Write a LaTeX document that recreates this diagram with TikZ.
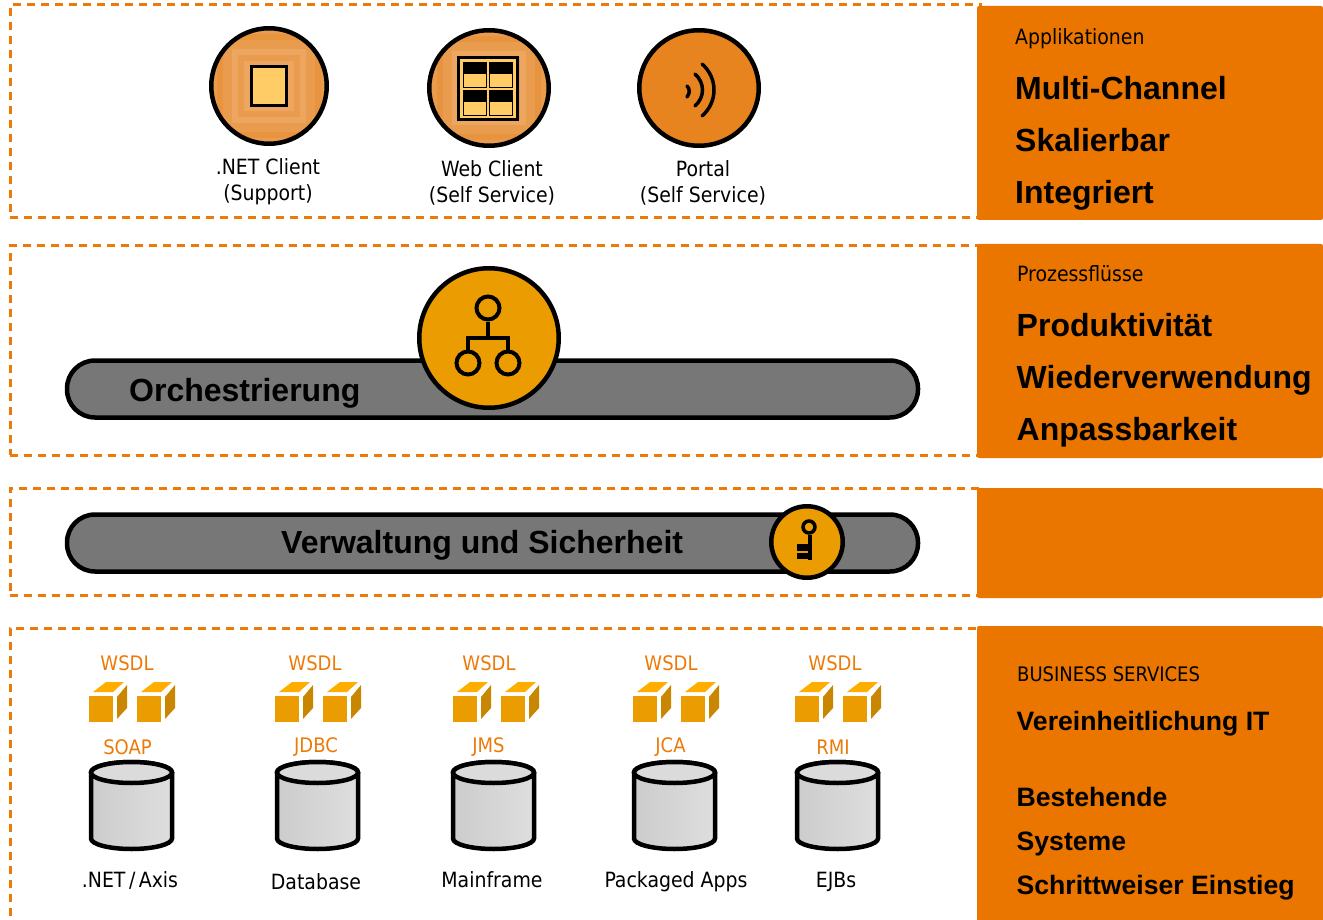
\documentclass[tikz,border=0pt]{standalone}
\usepackage{fontspec}
\setmainfont{DejaVu Sans Condensed}
\newfontfamily\headfont[BoldFont={Liberation Sans Bold}]{Liberation Sans}
\usetikzlibrary{positioning,shapes.geometric}
\definecolor{panelorange}{HTML}{EA7600}
\definecolor{dashorange}{HTML}{EC7A08}
\definecolor{clientorange}{HTML}{E88420}
\definecolor{texdark}{HTML}{E8943F}
\definecolor{texmid}{HTML}{EA9C4E}
\definecolor{texlight}{HTML}{EDA660}
\definecolor{iconyellow}{HTML}{FFCC66}
\definecolor{amber}{HTML}{EB9C00}
\definecolor{amberlight}{HTML}{FFAE00}
\definecolor{amberdark}{HTML}{C98600}
\definecolor{bargray}{HTML}{777777}
\newcommand{\netaxis}{.NET\,/\,Axis}
\tikzstyle{tier}=[rectangle,draw=dashorange,line width=3pt,dash pattern=on 8pt off 6pt,inner sep=0,outer sep=0,anchor=north west]
\tikzstyle{panel}=[rectangle,fill=panelorange,rounded corners=2pt,inner sep=0,outer sep=0,anchor=north west,minimum width=346pt]
\tikzstyle{panel small}=[font=\fontsize{21}{24}\selectfont,anchor=base west,inner sep=0]
\tikzstyle{panel big}=[font=\headfont\bfseries\fontsize{32}{38}\selectfont,anchor=base west,inner sep=0]
\tikzstyle{panel mid}=[font=\headfont\bfseries\fontsize{26.6}{32}\selectfont,anchor=base west,inner sep=0]
\tikzstyle{client}=[ellipse,draw=black,line width=4.5pt,minimum width=119.5pt,minimum height=115.5pt,inner sep=0,fill=clientorange]
\tikzstyle{textured}=[client,fill=texdark,path picture={
  \foreach \r/\c in {58/texmid,52/texdark,46/texmid,37/texlight,31/texmid,25/texlight}
    \fill[\c] (path picture bounding box.center) ++(-\r pt,-\r pt) rectangle ++(2*\r pt,2*\r pt);
}]
\tikzstyle{caption}=[font=\fontsize{21}{26}\selectfont,align=center,inner sep=0]
\tikzstyle{drum name}=[font=\fontsize{21}{26}\selectfont,anchor=base,inner sep=0]
\tikzstyle{bar}=[rectangle,rounded corners=28pt,draw=black,line width=4.5pt,fill=bargray,minimum width=851pt,minimum height=57pt,inner sep=0]
\tikzstyle{bar text}=[font=\headfont\bfseries\fontsize{32}{38}\selectfont,anchor=base west,inner sep=0]
\tikzstyle{badge}=[circle,draw=black,line width=4.5pt,fill=amber,inner sep=0]
\tikzstyle{ring}=[circle,draw=black,line width=4pt,fill=amber,inner sep=0,minimum size=23pt]
\tikzstyle{orange label}=[font=\fontsize{20}{24}\selectfont,text=dashorange,inner sep=0,anchor=base]
\tikzstyle{wire}=[draw=black,line width=4pt]
\tikzset{drum/.pic={
  \draw [line width=4.5pt,left color=black!20,right color=black!13] (-40.5,32.5) arc[start angle=180,end angle=360,x radius=40.5pt,y radius=10.5pt] -- (40.5,-33.5) arc[start angle=0,end angle=180,x radius=40.5pt,y radius=10.5pt] -- cycle ;
  \draw [line width=4.5pt,fill=black!14] (-40.5,-33.5) arc[start angle=180,end angle=360,x radius=40.5pt,y radius=10.5pt] arc[start angle=0,end angle=180,x radius=40.5pt,y radius=10.5pt] -- cycle ;
}}
\begin{document}
\begin{tikzpicture}[x=1pt,y=-1pt]
\useasboundingbox (0,0) rectangle (1323,920);

\node (apptier) [tier,minimum width=970pt,minimum height=213pt] at (10,5) {} ;
\node (proctier) [tier,minimum width=970pt,minimum height=209pt] at (10,246) {} ;
\node (admintier) [tier,minimum width=970pt,minimum height=107pt] at (10,488) {} ;
\node (datatier) [tier,minimum width=970pt,minimum height=300pt] at (10,628) {} ;

\node (apppanel) [panel,minimum height=214pt] at (977,6) {} ;
\node (procpanel) [panel,minimum height=214pt] at (977,244) {} ;
\node (adminpanel) [panel,minimum height=110pt] at (977,488) {} ;
\node (datapanel) [panel,minimum height=298pt] at (977,626) {} ;

\node (apphead) [panel small] at (1015,45) {Applikationen} ;
\node (multi) [panel big] at (1015,100) {Multi-Channel} ;
\node (scale) [panel big] at (1015,152) {Skalierbar} ;
\node (integ) [panel big] at (1015,204) {Integriert} ;

\node (prochead) [panel small] at (1017,281) {Prozessflüsse} ;
\node (prod) [panel big] at (1016.5,336) {Produktivität} ;
\node (reuse) [panel big] at (1016.5,388) {Wiederverwendung} ;
\node (adapt) [panel big] at (1016.5,440) {Anpassbarkeit} ;

\node (datahead) [panel small,font=\fontsize{20}{24}\selectfont] at (1017,681) {BUSINESS SERVICES} ;
\node (unify) [panel mid] at (1016.5,730) {Vereinheitlichung IT} ;
\node (exist) [panel mid] at (1016.5,806) {Bestehende} ;
\node (systems) [panel mid] at (1016.5,850) {Systeme} ;
\node (steps) [panel mid] at (1016.5,894) {Schrittweiser Einstieg} ;

\node (netclient) [textured,minimum width=115.5pt] at (269,86) {} ;
\node (netdoc) [rectangle,draw=black,line width=3pt,fill=iconyellow,minimum width=35pt,minimum height=39pt,inner sep=0] at (269,86) {} ;
\node (netcap) [caption,below=12pt of netclient,xshift=-1pt] {.NET Client\\(Support)} ;

\node (webclient) [textured] at (489,88) {} ;
\node (webdoc) [rectangle,draw=black,line width=3pt,fill=iconyellow,minimum width=59pt,minimum height=62pt,inner sep=0] at (488,89) {} ;
\foreach \x/\y in {475/75,501/75,475/103,501/103} {
  \node (tile\x\y) [rectangle,draw=black,line width=1pt,fill=iconyellow,minimum width=23pt,minimum height=25pt,inner sep=0] at (\x,\y) {} ;
  \fill (\x-11.5,\y-12.5) rectangle (\x+11.5,\y-1) ;
}
\node (webcap) [caption,below=12pt of webclient,xshift=3pt] {Web Client\\(Self Service)} ;

\node (portal) [client] at (699,88) {} ;
\draw [line width=3.5pt,line cap=round] (687,86) .. controls (690,89) and (690,93) .. (687,97) ;
\draw [line width=3.5pt,line cap=round] (695,74) .. controls (705,83) and (705,97) .. (695,106) ;
\draw [line width=3.5pt,line cap=round] (702,64) .. controls (718,78) and (718,102) .. (702,116) ;
\node (portalcap) [caption,below=12pt of portal,xshift=4pt] {Portal\\(Self Service)} ;

\node (orchbar) [bar] at (492.5,389) {} ;
\node (orchtext) [bar text] at (129,401) {Orchestrierung} ;
\node (orchbadge) [badge,minimum size=139.5pt] at (489,338) {} ;
\node (orgtop) [ring] at (488,308) {} ;
\node (orgleft) [ring] at (468,363) {} ;
\node (orgright) [ring] at (508,363) {} ;
\coordinate (orgbar) at (488,338) ;
\draw [wire] (orgtop) -- (orgbar) ;
\draw [wire] (orgleft.north) |- (orgbar) -| (orgright.north) ;

\node (adminbar) [bar] at (492.5,543) {} ;
\node (admintext) [bar text] at (281,553) {Verwaltung und Sicherheit} ;
\node (keybadge) [badge,minimum size=71.5pt] at (807,542) {} ;
\node (keyring) [circle,draw=black,line width=3.5pt,inner sep=0,minimum size=12pt] at (809,527) {} ;
\coordinate (keyend) at (810,560) ;
\draw [black,line width=4pt] (keyring.south -| keyend) -- (keyend) ;
\fill (797,544) rectangle (808,551) ;
\fill (797,553) rectangle (808,559) ;

\foreach \n/\cx/\wx/\cubex/\proto/\px/\py/\name/\nx/\ny in {
  axis/131.5/127/89/SOAP/127.5/754/\netaxis/130/887.5,
  db/317.5/315/275/JDBC/316/752/Database/316/889.5,
  main/493.5/489/453/JMS/488.5/752/Mainframe/492/887.5,
  pack/674.5/671/633/JCA/670.5/752/Packaged Apps/676/887.5,
  ejb/837.5/835/795/RMI/833/754/EJBs/836/887.5} {
  \node (wsdl\n) [orange label] at (\wx,670) {WSDL} ;
  \foreach \dx in {0,48} {
    \fill [amber] (\cubex+\dx,696) rectangle ++(24,26) ;
    \fill [amberlight] (\cubex+\dx+4,692) -- (\cubex+\dx+17,682) -- (\cubex+\dx+35,682) -- (\cubex+\dx+24,692) -- cycle ;
    \fill [amberdark] (\cubex+\dx+28,697) -- (\cubex+\dx+38,685) -- (\cubex+\dx+38,708) -- (\cubex+\dx+28,719) -- cycle ;
  }
  \node (proto\n) [orange label] at (\px,\py) {\proto} ;
  \pic (drum\n) at (\cx,806) {drum} ;
  \node (name\n) [drum name] at (\nx,\ny) {\name} ;
}

\end{tikzpicture}
\end{document}
